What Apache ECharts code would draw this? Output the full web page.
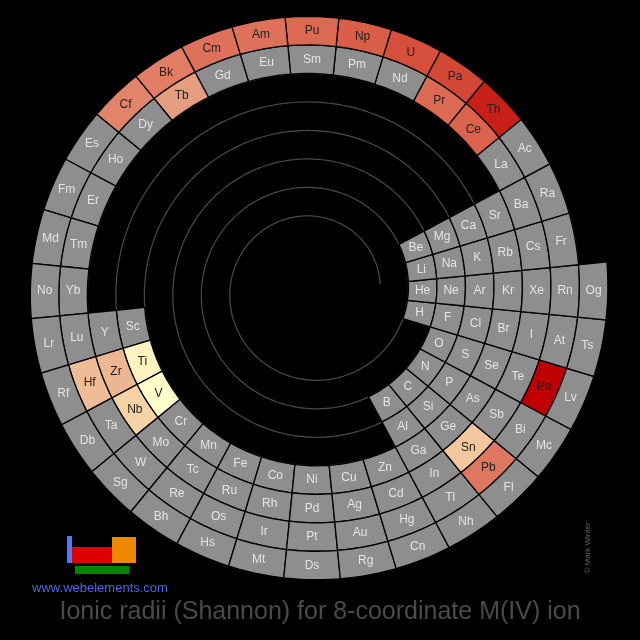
<!DOCTYPE html>
<html><head><meta charset="utf-8">
<script src="https://cdn.jsdelivr.net/npm/echarts@6/dist/echarts.min.js"></script>
<style>html,body{margin:0;padding:0;background:#000}#c{width:640px;height:640px}</style>
</head><body><div id="c"></div>
<script>
// Periods: symbols and the slot (of 32 around one turn) where each element sits
const period1 = ['H','He'];            const slots1 = [30,31];
const period2 = ['Li','Be','B','C','N','O','F','Ne'];
const period3 = ['Na','Mg','Al','Si','P','S','Cl','Ar'];
const slotsSP = [0,1,26,27,28,29,30,31];
const period4 = ['K','Ca','Sc','Ti','V','Cr','Mn','Fe','Co','Ni','Cu','Zn','Ga','Ge','As','Se','Br','Kr'];
const period5 = ['Rb','Sr','Y','Zr','Nb','Mo','Tc','Ru','Rh','Pd','Ag','Cd','In','Sn','Sb','Te','I','Xe'];
const slotsSPD = [0,1,16,17,18,19,20,21,22,23,24,25,26,27,28,29,30,31];
const period6 = ['Cs','Ba','La','Ce','Pr','Nd','Pm','Sm','Eu','Gd','Tb','Dy','Ho','Er','Tm','Yb','Lu','Hf','Ta','W','Re','Os','Ir','Pt','Au','Hg','Tl','Pb','Bi','Po','At','Rn'];
const period7 = ['Fr','Ra','Ac','Th','Pa','U','Np','Pu','Am','Cm','Bk','Cf','Es','Fm','Md','No','Lr','Rf','Db','Sg','Bh','Hs','Mt','Ds','Rg','Cn','Nh','Fl','Mc','Lv','Ts','Og'];
// Ionic radii (Å), 8-coordinate M(IV)
const radiusSymbols = ['Ti','V','Zr','Nb','Sn','Ce','Pr','Tb','Hf','Pb','Po','Th','Pa','U','Np','Pu','Am','Cm','Bk','Cf'];
const radiusValues  = [0.74,0.72,0.84,0.79,0.81,0.97,0.96,0.88,0.83,0.94,1.08,1.05,1.01,1.00,0.98,0.96,0.95,0.95,0.93,0.92];

const rows = [[period1,slots1],[period2,slotsSP],[period3,slotsSP],[period4,slotsSPD],[period5,slotsSPD],
  [period6,period6.map((_,i)=>i)],[period7,period7.map((_,i)=>i)]];
const data = [];
rows.forEach(([syms,slots],pi)=>{
  syms.forEach((s,i)=>{
    const k = radiusSymbols.indexOf(s);
    data.push({name:s, value:[pi+1, slots[i], k>=0?radiusValues[k]:'-']});
  });
});

const R6 = 225.5, PITCH = 28.5, HALF = 14.25, STEP = 11.25;
function rc(p, a){ return R6 + PITCH*(p-6 + (a/STEP - 1)/32); }
function norm(a){ return ((a%360)+360)%360; }

const chart = echarts.init(document.getElementById('c'));
chart.setOption({
  backgroundColor:'#000',
  animation:false,
  polar:{center:[312,291], radius:300},
  angleAxis:{type:'value', min:0, max:360, startAngle:0, clockwise:false, show:false},
  radiusAxis:{type:'value', min:0, max:300, show:false},
  visualMap:{show:false, type:'continuous', seriesIndex:1, dimension:2, min:0.72, max:1.08,
    inRange:{color:['#ffffcc','#f5d2a6','#e8a888','#e07a62','#d44a36','#c00000']}},
  series:[
    {type:'custom', coordinateSystem:'polar', silent:true, data:[[0,0]],
     renderItem:(params, api)=>{
       const pts=[];
       const u0 = -5 - 0.5/32, u1 = 2 + 0.03;
       for(let u=u0; u<=u1; u+=1/360){
         const a = 11.25 + (u - Math.floor(u))*360;
         const p = Math.floor(u)+6;
         const r = rc(p, a) - HALF;
         pts.push(api.coord([r, norm(a)]));
       }
       return {type:'polyline', shape:{points:pts}, style:{stroke:'#4a4a4a', lineWidth:1.2, fill:null}};
     }},
    {type:'custom', coordinateSystem:'polar', data:data,
     renderItem:(params, api)=>{
       const p = api.value(0), s = api.value(1), v = api.value(2);
       const has = !isNaN(v) && v !== '-';
       const a0 = STEP*(s+0.5), a1 = STEP*(s+1.5);
       const inner=[], outer=[];
       for(let i=0;i<=10;i++){
         const a = a0 + (a1-a0)*i/10;
         const r = rc(p,a);
         outer.push(api.coord([r+HALF, norm(a)]));
         inner.unshift(api.coord([r-HALF, norm(a)]));
       }
       const ac = STEP*(s+1);
       const c = api.coord([rc(p,ac), norm(ac)]);
       const fill = has ? api.visual('color') : '#8e8e8e';
       return {type:'group', children:[
         {type:'polygon', shape:{points:outer.concat(inner)}, style:{fill:fill, stroke:'#000', lineWidth:1.3}},
         {type:'text', x:c[0], y:c[1], style:{text:data[params.dataIndex].name, fill: has?'#222':'#e4e4e4',
           font:'12px "Liberation Sans", Arial, sans-serif', align:'center', verticalAlign:'middle'}}
       ]};
     }}
  ],
  graphic:[
    {type:'rect', shape:{x:67,y:536,width:5,height:27}, style:{fill:'#4a7cff'}},
    {type:'rect', shape:{x:72,y:547,width:40,height:16}, style:{fill:'#dd0000'}},
    {type:'rect', shape:{x:112,y:537,width:24,height:26}, style:{fill:'#ee8800'}},
    {type:'rect', shape:{x:75,y:566,width:54,height:8}, style:{fill:'#008800'}},
    {type:'text', x:100, y:588, style:{text:'www.webelements.com', fill:'#4a66e6', font:'13px "Liberation Sans", Arial, sans-serif', align:'center', verticalAlign:'middle'}},
    {type:'text', x:320, y:612, style:{text:'Ionic radii (Shannon) for 8-coordinate M(IV) ion', fill:'#4a4a4a', font:'25px "Liberation Sans", Arial, sans-serif', align:'center', verticalAlign:'middle'}},
    {type:'text', x:588, y:548, rotation:Math.PI/2, style:{text:'© Mark Winter', fill:'#666', font:'8px "Liberation Sans", Arial, sans-serif', align:'center', verticalAlign:'middle'}}
  ]
});
</script></body></html>
